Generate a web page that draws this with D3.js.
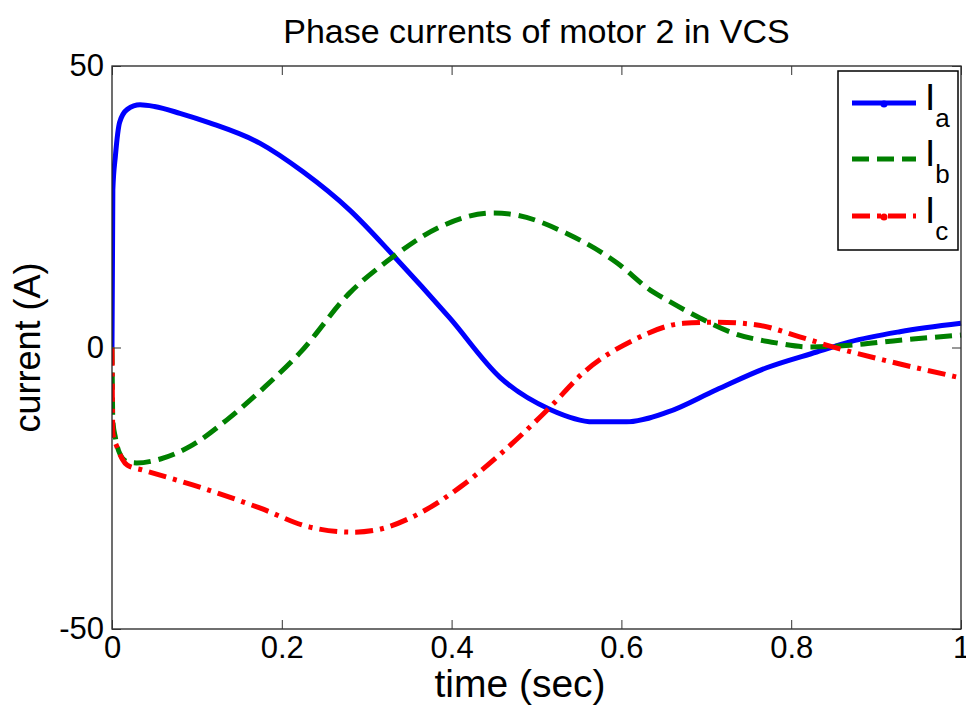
<!DOCTYPE html>
<html><head><meta charset="utf-8">
<script src="https://cdn.jsdelivr.net/npm/d3@7"></script>
<style>body{margin:0;background:#fff}svg{display:block}text{font-family:"Liberation Sans",Arial,sans-serif;fill:#000}</style>
</head><body><svg id="c" width="966" height="715"></svg>
<script>
const xTicks = [0, 0.2, 0.4, 0.6, 0.8, 1];
const yTicks = [-50, 0, 50];
const seriesNames = ["a", "b", "c"];
const tA = [0, 0.001, 0.004, 0.009, 0.018, 0.033, 0.05, 0.08, 0.115, 0.174, 0.225, 0.28, 0.331, 0.398, 0.457, 0.516, 0.567, 0.606, 0.654, 0.712, 0.771, 0.83, 0.869, 0.928, 1.0];
const iA = [0, 28, 34, 40, 42.3, 43.1, 42.8, 41.6, 39.9, 36.3, 31.2, 24.4, 16.4, 5.2, -5.3, -11.0, -13.2, -13.2, -11.5, -7.5, -3.6, -0.8, 1.0, 2.8, 4.3];
const tB = [0, 0.001, 0.004, 0.009, 0.018, 0.029, 0.057, 0.095, 0.135, 0.18, 0.221, 0.28, 0.331, 0.386, 0.449, 0.477, 0.535, 0.595, 0.634, 0.654, 0.693, 0.731, 0.783, 0.822, 0.869, 0.928, 1.0];
const iB = [0, -13, -16, -18.8, -20.3, -20.5, -19.8, -17.3, -12.9, -7, -1.0, 9.7, 16.1, 21.4, 23.9, 23.5, 20.3, 15, 10.2, 8.4, 5.2, 2.6, 0.8, 0.1, 0.4, 1.3, 2.2];
const tC = [0, 0.001, 0.006, 0.012, 0.018, 0.037, 0.095, 0.174, 0.233, 0.284, 0.312, 0.351, 0.41, 0.453, 0.516, 0.555, 0.614, 0.673, 0.712, 0.76, 0.81, 0.849, 0.908, 1.0];
const iC = [0, -15.2, -17.7, -19.8, -20.9, -21.8, -24.4, -28.5, -31.9, -32.8, -32.4, -30.3, -24.8, -19.5, -10.6, -4.5, 1.3, 4.3, 4.5, 4.0, 1.9, 0.1, -2.2, -5.4];

const svg = d3.select("#c");
const L = 112, R = 961, T = 66, B = 629;
const x = d3.scaleLinear().domain([0, 1]).range([L, R]);
const y = d3.scaleLinear().domain([-50, 50]).range([B, T]);

const styles = [
  {color: "#0000ff", dash: null},
  {color: "#008000", dash: "17,8"},
  {color: "#ff0000", dash: "18,7,4,7"}
];
const data = [[tA, iA], [tB, iB], [tC, iC]].map(([t, v]) => t.map((d, i) => [d, v[i]]));

svg.append("defs").append("clipPath").attr("id", "clip")
  .append("rect").attr("x", L).attr("y", T - 3).attr("width", R - L + 3).attr("height", B - T + 6);

const line = d3.line().x(d => x(d[0])).y(d => y(d[1])).curve(d3.curveMonotoneX);
const g = svg.append("g").attr("clip-path", "url(#clip)");
data.forEach((d, i) => {
  g.append("path").attr("d", line(d)).attr("fill", "none")
    .attr("stroke", styles[i].color).attr("stroke-width", 5)
    .attr("stroke-dasharray", styles[i].dash);
});

// axes box
svg.append("rect").attr("x", L).attr("y", T).attr("width", R - L).attr("height", B - T)
  .attr("fill", "none").attr("stroke", "#222").attr("stroke-width", 1.3);

const tl = 9;
const axB = svg.append("g").attr("transform", `translate(0,${B})`)
  .call(d3.axisBottom(x).tickValues(xTicks).tickSizeInner(-tl).tickSizeOuter(0).tickPadding(7).tickFormat(d3.format("")));
const axT = svg.append("g").attr("transform", `translate(0,${T})`)
  .call(d3.axisTop(x).tickValues(xTicks).tickSizeInner(-tl).tickSizeOuter(0).tickFormat(""));
const axL = svg.append("g").attr("transform", `translate(${L},0)`)
  .call(d3.axisLeft(y).tickValues(yTicks).tickSizeInner(-tl).tickSizeOuter(0).tickPadding(8).tickFormat(d => String(d)));
const axR = svg.append("g").attr("transform", `translate(${R},0)`)
  .call(d3.axisRight(y).tickValues(yTicks).tickSizeInner(-tl).tickSizeOuter(0).tickFormat(""));
[axB, axT, axL, axR].forEach(a => {
  a.select(".domain").remove();
  a.selectAll(".tick line").attr("stroke", "#333").attr("stroke-width", 1);
  a.selectAll("text").style("font-family", '"Liberation Sans",Arial,sans-serif').style("font-size", "31px").attr("fill", "#000");
});

svg.append("text").attr("x", (L + R) / 2).attr("y", 43).attr("text-anchor", "middle")
  .style("font-size", "34px").text("Phase currents of motor 2 in VCS");
svg.append("text").attr("x", 520).attr("y", 697).attr("text-anchor", "middle")
  .style("font-size", "39px").text("time (sec)");
svg.append("text").attr("transform", `translate(40,${(T + B) / 2}) rotate(-90)`).attr("text-anchor", "middle")
  .style("font-size", "36px").text("current (A)");

// legend
const lg = svg.append("g");
lg.append("rect").attr("x", 838).attr("y", 71).attr("width", 120).attr("height", 179)
  .attr("fill", "#fff").attr("stroke", "#000").attr("stroke-width", 1.5);
const ly = [103, 159, 216];
seriesNames.forEach((n, i) => {
  lg.append("line").attr("x1", 852).attr("x2", 916).attr("y1", ly[i]).attr("y2", ly[i])
    .attr("stroke", styles[i].color).attr("stroke-width", 5).attr("stroke-dasharray", styles[i].dash);
  if (i !== 1) lg.append("circle").attr("cx", 884).attr("cy", ly[i] + 1).attr("r", 3.5).attr("fill", styles[i].color);
  const t = lg.append("text").attr("x", 925).attr("y", ly[i] + 7).style("font-size", "37px");
  t.append("tspan").text("I");
  t.append("tspan").attr("dy", 17).style("font-size", "26px").text(n);
});
</script></body></html>
